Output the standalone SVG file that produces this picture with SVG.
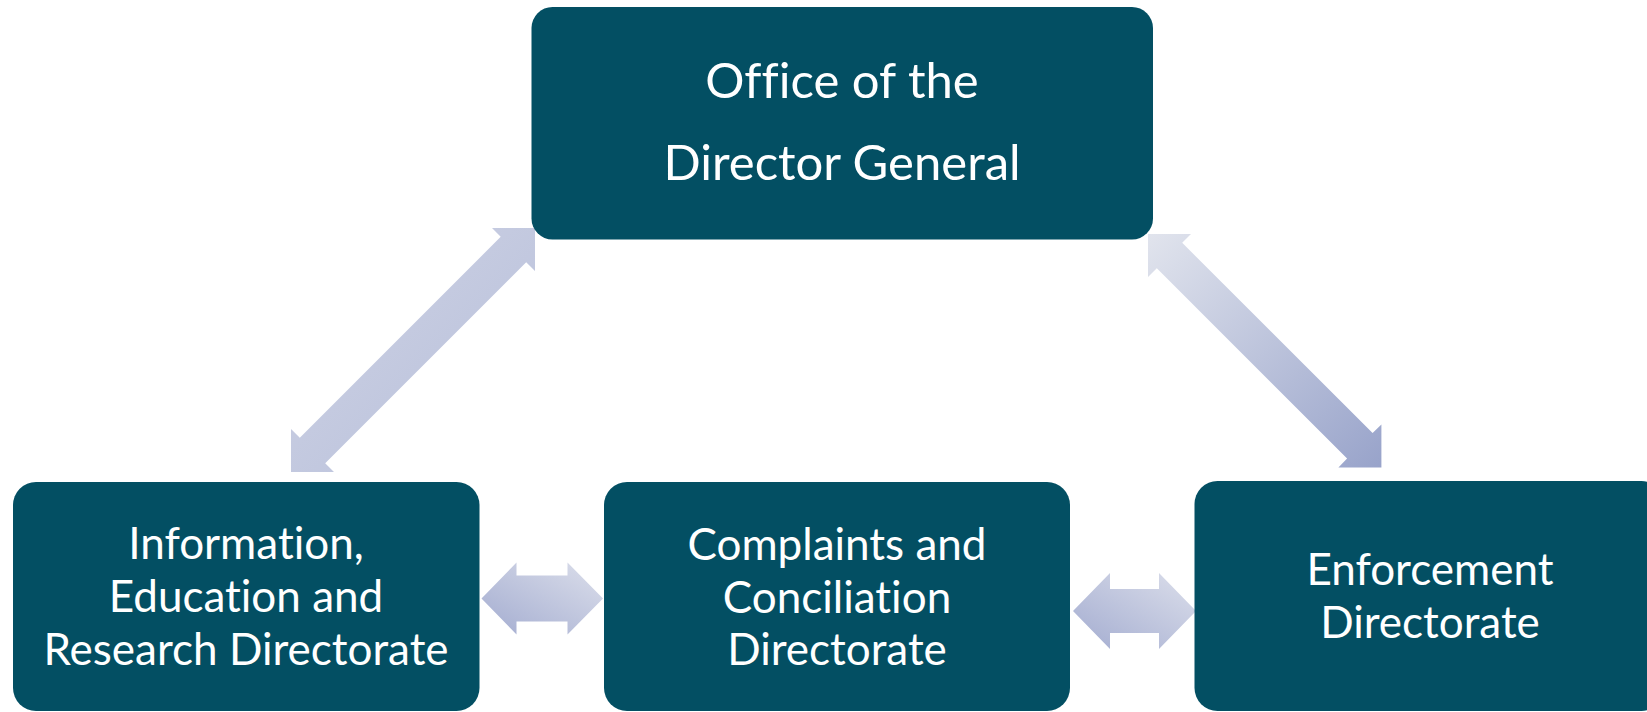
<svg xmlns="http://www.w3.org/2000/svg" width="1647" height="712" viewBox="0 0 1647 712">
  <style>
    .box { fill: #034f63; }
    .lbl { fill: #ffffff; font-family: Lato, "Liberation Sans", sans-serif; text-anchor: middle; font-variant-ligatures: none; font-feature-settings: "liga" 0, "clig" 0; }
    .big { font-size: 49px; }
    .small { font-size: 44px; }
  </style>
  <defs>
    <linearGradient id="gDiagL" x1="0" y1="0" x2="1" y2="1">
      <stop offset="0" stop-color="#cfd3e4"/>
      <stop offset="1" stop-color="#b7bfdb"/>
    </linearGradient>
    <linearGradient id="gDiagR" x1="0" y1="0" x2="1" y2="1">
      <stop offset="0" stop-color="#e1e4ed"/>
      <stop offset="1" stop-color="#98a3ca"/>
    </linearGradient>
    <linearGradient id="gHoriz" x1="0" y1="1" x2="1" y2="0">
      <stop offset="0" stop-color="#a3acd0"/>
      <stop offset="1" stop-color="#dcdfeb"/>
    </linearGradient>
  </defs>

  <rect width="1647" height="712" fill="#ffffff"/>

  <!-- double-headed block arrows -->
  <g id="connectors">
    <polygon fill="url(#gDiagL)" points="291,472 291,429 299.8,437.8 500.7,236.8 492,228 535,228 535,271 526.2,262.3 325.2,463.2 334,472"/>
    <polygon fill="url(#gDiagR)" points="1148,234 1191,234 1182.2,242.8 1372.6,433.1 1381.4,424.4 1381.4,467.4 1338.4,467.4 1347.1,458.6 1156.8,268.2 1148,277"/>
    <polygon fill="url(#gHoriz)" points="481.5,598.5 516.5,562.5 516.5,575.5 567.5,575.5 567.5,562.5 603,598.5 567.5,634.5 567.5,621.5 516.5,621.5 516.5,634.5"/>
    <polygon fill="url(#gHoriz)" points="1073,611 1110,573 1110,589 1159,589 1159,573 1196,611 1159,649 1159,633 1110,633 1110,649"/>
  </g>

  <g id="director-general">
    <rect class="box" x="531.5" y="7" width="621.5" height="232.5" rx="21" ry="21"/>
    <text class="lbl big" x="842" y="98">Office of the</text>
    <text class="lbl big" x="842" y="180">Director General</text>
  </g>

  <g id="information-education-research">
    <rect class="box" x="13" y="482" width="466.5" height="229" rx="23" ry="23"/>
    <text class="lbl small" x="246" y="559">Information,</text>
    <text class="lbl small" x="246" y="612">Education and</text>
    <text class="lbl small" x="246" y="665">Research Directorate</text>
  </g>

  <g id="complaints-conciliation">
    <rect class="box" x="604" y="482" width="466" height="229" rx="23" ry="23"/>
    <text class="lbl small" x="837" y="560">Complaints and</text>
    <text class="lbl small" x="837" y="612.5">Conciliation</text>
    <text class="lbl small" x="837" y="665">Directorate</text>
  </g>

  <g id="enforcement">
    <rect class="box" x="1194.5" y="481" width="470" height="230" rx="23" ry="23"/>
    <text class="lbl small" x="1430" y="585">Enforcement</text>
    <text class="lbl small" x="1430" y="638">Directorate</text>
  </g>
</svg>
